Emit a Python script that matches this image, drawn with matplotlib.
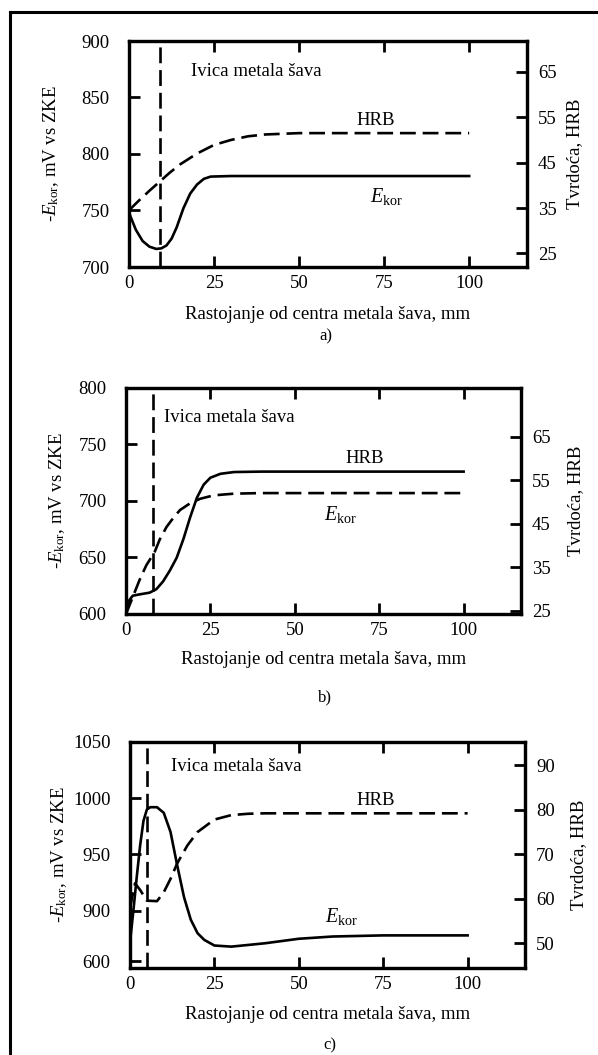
import matplotlib
matplotlib.use('Agg')
import matplotlib.pyplot as plt
from matplotlib.lines import Line2D

plt.rcParams['font.family'] = ['Liberation Serif', 'DejaVu Serif']
plt.rcParams['mathtext.fontset'] = 'custom'
plt.rcParams['mathtext.rm'] = 'Liberation Serif'
plt.rcParams['mathtext.it'] = 'Liberation Serif:italic'

# --- podaci (očitano sa slike) ---
# a)
a_x_ekor = [0, 2, 4, 6, 8, 9.5, 11, 12.5, 14, 16, 18, 20, 22, 24, 30, 100]
a_ekor = [748, 733, 723, 718, 716, 716.5, 719, 725, 735, 752, 765, 773, 778, 780, 780.5, 780.5]
a_x_hrb = [0, 3, 6, 9, 12, 15, 20, 25, 30, 35, 40, 50, 100]
a_hrb = [34.5, 36.7, 38.8, 40.8, 42.8, 44.6, 47, 48.9, 50, 50.8, 51.2, 51.5, 51.5]
a_edge = 9.1

# b)  (puna linija = HRB, isprekidana = E_kor)
b_x_hrb = [0, 1, 2, 4, 7, 9, 11, 13, 15, 17, 19, 21, 23, 25, 28, 32, 40, 100]
b_hrb = [24.5, 27.5, 28.5, 28.8, 29.2, 30, 31.8, 34.3, 37.2, 41.5, 46.5, 51, 54, 55.6, 56.5, 56.9, 57, 57]
b_x_ekor = [0, 2, 4, 6, 8.5, 10, 12, 14, 16, 19, 22, 26, 32, 40, 100]
b_ekor = [600, 615, 630, 643, 655, 666, 677, 685, 692, 698, 702, 705, 706.5, 707, 707]
b_edge = 8.0

# c)
c_x_ekor = [0, 1, 2, 3, 4, 5, 6, 8, 10, 12, 14, 16, 18, 20, 22, 25, 30, 40, 50, 60, 75, 100]
c_ekor = [872, 900, 930, 958, 980, 990, 992, 992, 987, 970, 940, 912, 892, 880, 874, 869, 868, 871, 875, 877, 878, 878]
c_x_hrb = [0, 1.5, 3, 5, 8, 10, 12, 14, 17, 20, 25, 30, 35, 40, 100]
c_hrb = [58, 63.5, 62, 59.6, 59.5, 61.5, 64.5, 68, 72, 75, 77.8, 78.8, 79.1, 79.2, 79.2]
c_edge = 5.0

x_ticks = [0, 25, 50, 75, 100]
a_left_ticks = [700, 750, 800, 850, 900]
a_right_ticks = [25, 35, 45, 55, 65]
b_left_ticks = [600, 650, 700, 750, 800]
b_right_ticks = [25, 35, 45, 55, 65]
c_left_ticks = [855, 900, 950, 1000, 1050]
c_left_labels = ['600', '900', '950', '1000', '1050']
c_right_ticks = [50, 60, 70, 80, 90]

ylab_left = r'-$\mathit{E}_{\mathrm{kor}}$, mV vs ZKE'
ylab_right = 'Tvrdoća, HRB'
xlab = 'Rastojanje od centra metala šava, mm'
ekor_txt = r'$\mathit{E}_{\mathrm{kor}}$'

FS = 13.5
LW = 1.9
dash = (0, (6, 2.6))

fig = plt.figure(figsize=(5.98, 10.55), dpi=100)


def make_panel(rect, ylim_l, ylim_r, lticks, rticks, llabels=None,
               lcoord=-0.17, rcoord=1.1, xcoord=-0.17):
    ax = fig.add_axes(rect)
    ax2 = ax.twinx()
    ax.set_xlim(0, 117)
    ax.set_ylim(*ylim_l)
    ax2.set_ylim(*ylim_r)
    ax.set_xticks(x_ticks)
    ax.set_yticks(lticks)
    if llabels is not None:
        ax.set_yticklabels(llabels)
    ax2.set_yticks(rticks)
    ax.tick_params(axis='x', direction='in', length=8, width=2, top=True, labelsize=FS, pad=6)
    ax.tick_params(axis='y', direction='in', length=8, width=2, right=False, labelsize=FS, pad=14)
    ax2.tick_params(axis='y', direction='in', length=8, width=2, labelsize=FS, pad=8)
    for a in (ax, ax2):
        for s in a.spines.values():
            s.set_linewidth(2.3)
    ax.set_xlabel(xlab, fontsize=FS)
    ax.xaxis.set_label_coords(0.5, xcoord)
    ax.set_ylabel(ylab_left, fontsize=FS)
    ax.yaxis.set_label_coords(lcoord, 0.5)
    ax2.set_ylabel(ylab_right, fontsize=FS)
    ax2.yaxis.set_label_coords(rcoord, 0.5)
    return ax, ax2


# a)
ax, ax2 = make_panel([129/598, 1 - 267/1055, 398/598, 226/1055], (700, 900), (22, 71.8),
                     a_left_ticks, a_right_ticks, lcoord=-0.171, rcoord=1.098, xcoord=-0.173)
ax.plot(a_x_ekor, a_ekor, color='black', lw=LW)
ax2.plot(a_x_hrb, a_hrb, color='black', lw=LW, linestyle=dash)
ax.axvline(a_edge, color='black', lw=LW, linestyle=dash)
ax.text(18.2, 873, 'Ivica metala šava', fontsize=FS, va='center')
ax.text(72.6, 830, 'HRB', fontsize=FS, ha='center', va='center')
ax.text(75.6, 762, ekor_txt, fontsize=FS + 1, ha='center', va='center')

# b)
ax, ax2 = make_panel([126/598, 1 - 614/1055, 395/598, 226/1055], (600, 800), (24.3, 76.2),
                     b_left_ticks, b_right_ticks, lcoord=-0.149, rcoord=1.116, xcoord=-0.164)
ax2.plot(b_x_hrb, b_hrb, color='black', lw=LW)
ax.plot(b_x_ekor, b_ekor, color='black', lw=LW, linestyle=dash)
ax.axvline(b_edge, color='black', lw=LW, linestyle=dash)
ax.text(11.2, 774, 'Ivica metala šava', fontsize=FS, va='center')
ax.text(70.8, 738, 'HRB', fontsize=FS, ha='center', va='center')
ax.text(63.6, 688, ekor_txt, fontsize=FS + 1, ha='center', va='center')

# c)
ax, ax2 = make_panel([130/598, 1 - 968/1055, 395/598, 226/1055], (849, 1050), (44.5, 95.2),
                     c_left_ticks, c_right_ticks, llabels=c_left_labels,
                     lcoord=-0.154, rcoord=1.114, xcoord=-0.168)
ax.plot(c_x_ekor, c_ekor, color='black', lw=LW)
ax2.plot(c_x_hrb, c_hrb, color='black', lw=LW, linestyle=dash)
ax.axvline(c_edge, color='black', lw=LW, linestyle=dash)
ax.text(12, 1028, 'Ivica metala šava', fontsize=FS, va='center')
ax.text(72.7, 998, 'HRB', fontsize=FS, ha='center', va='center')
ax.text(62.8, 895, ekor_txt, fontsize=FS + 1, ha='center', va='center')

# oznake panela
fig.text(326/598, 1 - 336/1055, 'a)', fontsize=12, ha='center', va='center')
fig.text(325/598, 1 - 697/1055, 'b)', fontsize=12, ha='center', va='center')
fig.text(330/598, 1 - 1045/1055, 'c)', fontsize=12, ha='center', va='center')

# okvir
yt = 1 - 12/1055
xl = 10/598
fig.add_artist(Line2D([xl, 1], [yt, yt], color='black', lw=2.2, transform=fig.transFigure))
fig.add_artist(Line2D([xl, xl], [yt, 0], color='black', lw=2.2, transform=fig.transFigure))

fig.savefig('out.png', dpi=100)
